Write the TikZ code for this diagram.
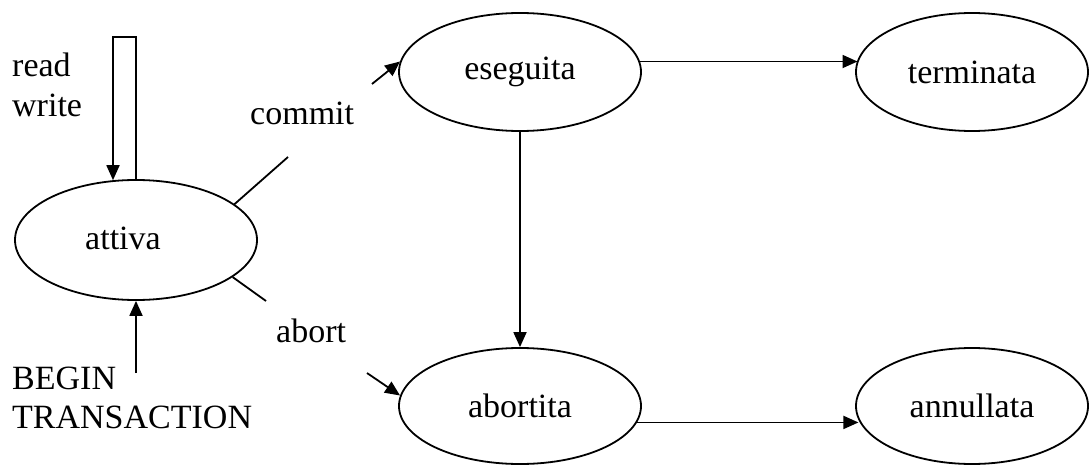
\documentclass[tikz,border=0pt]{standalone}
\usepackage{fontspec}
\setmainfont{Liberation Serif}
\usetikzlibrary{shapes.geometric,arrows.meta}
\begin{document}
\begin{tikzpicture}[x=1pt,y=-1pt,
  font=\fontsize{34}{40}\selectfont,
  lin/.style={line width=1.8pt},
  arr/.style={lin,-{Triangle[length=15pt,width=13pt]}},
  state/.style={draw,lin,ellipse,inner sep=0pt,minimum width=242pt,minimum height=118pt},
  lbl/.style={anchor=base west,inner sep=0pt}]
\useasboundingbox (0,0) rectangle (1089,465);
% states
\node[state,minimum height=120pt] (attiva) at (136,240) {};
\node (attivat) at (123,238) {attiva};
\node[state] (eseguita) at (520,72) {eseguita};
\node[state,minimum width=232pt] (terminata) at (972,72) {terminata};
\node[state,minimum height=116pt] (abortita) at (520,406) {abortita};
\node[state,minimum width=232pt,minimum height=116pt] (annullata) at (972,406) {annullata};
% labels
\node[lbl] (read) at (12,77) {read};
\node[lbl] (write) at (12,117) {write};
\node[lbl] (commit) at (250,125) {commit};
\node[lbl] (abort) at (276,342) {abort};
\node[lbl] (begin) at (12,389) {BEGIN};
\node[lbl] (trans) at (12,428) {TRANSACTION};
% connectors
\draw[arr] (eseguita.5.29) -- (terminata.174.49 |- eseguita.5.29);
\draw[arr] (abortita.352.69) -- (annullata.187.63 |- abortita.352.69);
\draw[arr] (eseguita.south) -- (abortita.north);
\coordinate (c1) at (288,157);
\coordinate (c2) at (372,84);
\draw[lin] (attiva.20.6) -- (c1);
\draw[arr] (c2) -- (eseguita.175.2);
\coordinate (a1) at (266,301);
\coordinate (a2) at (367,373);
\draw[lin] (attiva.339.1) -- (a1);
\draw[arr] (a2) -- (abortita.175.2);
\coordinate (lt) at (113,37);
\draw[arr] (attiva.north) |- (lt) -- (lt |- attiva.111.3);
\coordinate (bt) at (136,373);
\draw[arr] (bt) -- (attiva.south);
\end{tikzpicture}
\end{document}
